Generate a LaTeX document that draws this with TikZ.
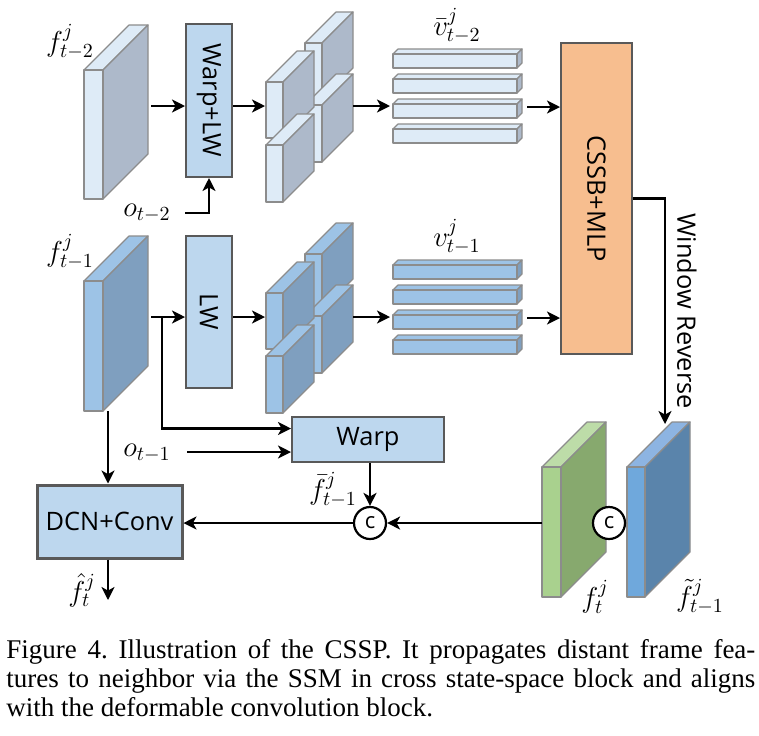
\documentclass[tikz,border=0pt]{standalone}
\usepackage{fontspec}
\setmainfont{Liberation Serif}
\newfontfamily\boxfont{Open Sans}
\usetikzlibrary{arrows.meta,positioning}
\definecolor{palefront}{HTML}{DEEBF7}
\definecolor{paleside}{HTML}{ADB9CA}
\definecolor{paletop}{HTML}{DEEBF7}
\definecolor{bluefront}{HTML}{9DC3E6}
\definecolor{blueside}{HTML}{7F9FBF}
\definecolor{bluetop}{HTML}{9DC3E6}
\definecolor{greenfront}{HTML}{A9D18E}
\definecolor{greenside}{HTML}{87A96E}
\definecolor{greentop}{HTML}{BDDCA8}
\definecolor{deepfront}{HTML}{6FA8DC}
\definecolor{deepside}{HTML}{5A84AB}
\definecolor{deeptop}{HTML}{8DB4E2}
\definecolor{boxblue}{HTML}{BDD7EE}
\definecolor{peach}{HTML}{F7BE8F}
\definecolor{rim}{HTML}{595959}
\definecolor{facetgray}{HTML}{8C8C8C}
\tikzset{
  facet/.style={draw=facetgray,line width=0.6pt,line join=round},
  box/.style={draw=rim,line width=1pt,fill=boxblue,inner sep=0pt,
              font=\boxfont\fontsize{12.7}{14}\selectfont},
  cat/.style={draw,circle,line width=1.1pt,fill=white,minimum size=16pt,
              inner sep=0pt,font=\boxfont\fontsize{11}{12}\selectfont},
  lab/.style={inner sep=0pt,font=\fontsize{14}{16}\selectfont},
  arrow/.style={-{Stealth[length=6.5pt,width=6.5pt,inset=1.8pt]},line width=1.2pt}
}
% front top-left x, y, width, height, depth, colour family
\newcommand{\slab}[6]{%
  \filldraw[facet,fill=#6top] (#1,#2) -- ++(#5,-#5) -- ++(#3,0) -- ++(-#5,#5) -- cycle;
  \filldraw[facet,fill=#6side] ({#1+#3},#2) -- ++(#5,-#5) -- ++(0,#4) -- ++(-#5,#5) -- cycle;
  \filldraw[facet,fill=#6front] (#1,#2) rectangle ++(#3,#4);
}

\begin{document}
\begin{tikzpicture}[x=0.5pt,y=-0.5pt]
\useasboundingbox (0,0) rectangle (759,735);
% frame t-2
\slab{84}{70}{19}{129}{45}{pale}
\slab{305}{43}{17}{56}{31}{pale}
\slab{305}{105}{17}{57}{31}{pale}
\slab{266}{82}{17}{56}{31}{pale}
\slab{266}{145}{17}{57}{31}{pale}
\foreach \y in {54,79,104,129} {\slab{393}{\y}{124}{14}{5}{pale}}
% frame t-1
\slab{84}{281}{19}{130}{45}{blue}
\slab{305}{254}{17}{56}{31}{blue}
\slab{305}{316}{17}{57}{31}{blue}
\slab{266}{293}{17}{56}{31}{blue}
\slab{266}{356}{17}{57}{31}{blue}
\foreach \y in {265,290,315,340} {\slab{393}{\y}{124}{14}{5}{blue}}
% frame t and propagated
\slab{542}{467}{19}{130}{45}{green}
\slab{627}{467}{18}{130}{45}{deep}

\node[box,minimum width=23pt,minimum height=76.5pt] (warplw) at (209,100.5) {\rotatebox{-90}{Warp+LW}};
\node[box,minimum width=23pt,minimum height=76pt] (lw) at (209,312) {\rotatebox{-90}{LW}};
\node[box,minimum width=76pt,minimum height=22.5pt] (warp) at (368,439.5) {Warp};
\node[box,line width=1.5pt,minimum width=72.5pt,minimum height=36.5pt] (dcn) at (109.5,521.5) {DCN+Conv};
\node[box,fill=peach,minimum width=35.5pt,minimum height=155.5pt] (cssb) at (596.5,198.5) {\rotatebox{-90}{CSSB+MLP}};
\node[cat] (catb) at (370,523) {c};
\node[cat] (catg) at (609,523) {c};

\node[lab] (ftwo) at (70,42) {$f_{t-2}^{j}$};
\node[lab] (fone) at (70,252) {$f_{t-1}^{j}$};
\node[lab] (vtwo) at (457,26) {$\bar{v}_{t-2}^{j}$};
\node[lab] (vone) at (457,237) {$v_{t-1}^{j}$};
\node[lab] (otwo) at (147,213) {$o_{t-2}$};
\node[lab] (oone) at (147,453) {$o_{t-1}$};
\node[lab] (fbar) at (333,490) {$\bar{f}_{t-1}^{j}$};
\node[lab] (fhat) at (82,590) {$\hat{f}_{t}^{j}$};
\node[lab] (fcur) at (595,597) {$f_{t}^{j}$};
\node[lab] (ftilde) at (700,597) {$\tilde{f}_{t-1}^{j}$};
\node[font=\boxfont\fontsize{12.7}{14}\selectfont] (winrev) at (687,311) {\rotatebox{-90}{Window Reverse}};

\coordinate (ptwo) at (151,106);
\coordinate (gtwo) at (265,106);
\coordinate (htwo) at (353,106);
\coordinate (btwo) at (390,106);
\coordinate (etwo) at (527,107);
\coordinate (otail) at (185,213);
\coordinate (pone) at (151,317);
\coordinate (split) at (162,317);
\coordinate (gone) at (265,317);
\coordinate (hone) at (353,317);
\coordinate (bone) at (390,317);
\coordinate (eone) at (527,318);
\coordinate (otailone) at (187,452);
\coordinate (fonebot) at (108,411);
\coordinate (fhatend) at (108,600);
\coordinate (gleft) at (542,523);
\coordinate (revend) at (665,424);

\draw[arrow] (ptwo) -- (ptwo -| warplw.west);
\draw[arrow] (warplw.east |- gtwo) -- (gtwo);
\draw[arrow] (htwo) -- (btwo);
\draw[arrow] (etwo) -- (etwo -| cssb.west);
\draw[arrow] (otail) -| (warplw.south);
\draw[arrow] (pone) -- (pone -| lw.west);
\draw[arrow] (lw.east |- gone) -- (gone);
\draw[arrow] (hone) -- (bone);
\draw[arrow] (eone) -- (eone -| cssb.west);
\draw[arrow] (split) |- ([yshift=5.5pt]warp.west);
\draw[arrow] (otailone) -- (otailone -| warp.west);
\draw[arrow] (warp.south -| catb) -- (catb.north);
\draw[arrow] (gleft) -- (catb.east);
\draw[arrow] (catb.west) -- (catb.west -| dcn.east);
\draw[arrow] (fonebot) -- (fonebot |- dcn.north);
\draw[arrow] (dcn.south -| fonebot) -- (fhatend);
\draw[arrow] (cssb.east) -| (revend);

\node[anchor=north west,inner sep=0pt,align=left,font=\fontsize{13.5}{14.5}\selectfont\frenchspacing] (caption) at (6,639)
  {\makebox[374.5pt][s]{Figure 4. Illustration of the CSSP. It propagates distant frame fea-}\\
   \makebox[374.5pt][s]{tures to neighbor via the SSM in cross state-space block and aligns}\\
   with the deformable convolution block.};
\end{tikzpicture}
\end{document}
